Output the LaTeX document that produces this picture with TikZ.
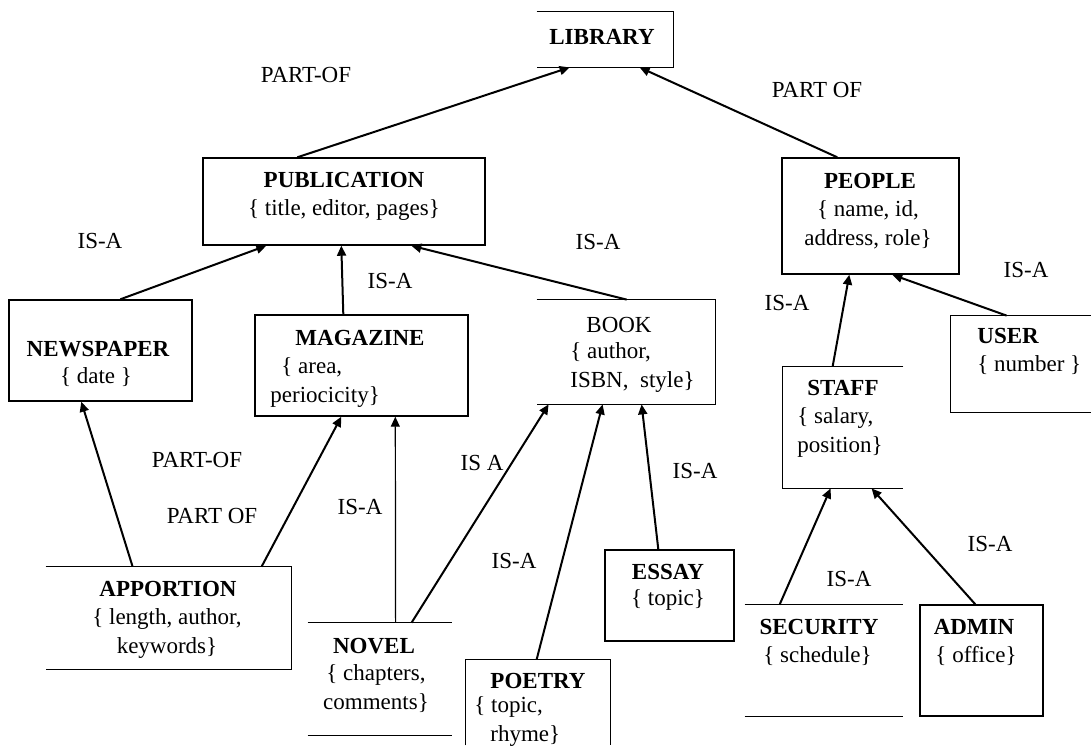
\documentclass[tikz,border=0pt]{standalone}
\usepackage{fontspec}
\setmainfont{Liberation Serif}
\usetikzlibrary{arrows.meta,fit,calc}
\begin{document}
\begin{tikzpicture}[x=0.5pt,y=-0.5pt,
  every node/.style={font=\fontsize{11.5}{14.5}\selectfont},
  frame/.style={fit={#1}, inner sep=0pt, draw=black, line width=0.7pt},
  area/.style={fit={#1}, inner sep=0pt},
  boxline/.style={line width=0.7pt},
  title/.style={inner sep=0pt, font=\fontsize{11.5}{14.5}\selectfont\bfseries},
  attr/.style={inner sep=0pt, align=center},
  lattr/.style={inner sep=0pt, align=left, anchor=west},
  rel/.style={inner sep=0pt},
  link/.style={line width=1pt, -{Triangle[length=5pt,width=4.5pt]}},
  thinlink/.style={line width=0.6pt, -{Triangle[length=5pt,width=4.5pt]}},
]
\useasboundingbox (0,0) rectangle (1091,745);

% ---- classes ----
\node[area={(537,12) (673,67)}] (lib) {};
\draw[boxline] (lib.north west) -- (lib.north east) -- (lib.south east) -- (lib.south west);
\node[title] (lib-t) at (602,37) {LIBRARY};

\node[frame={(203,158) (485,245)}] (pub) {};
\node[title] (pub-t) at (344,180) {PUBLICATION};
\node[attr] (pub-a) at (344,210) {\{ title, editor, pages\}};

\node[frame={(782,158) (959,274)}] (ppl) {};
\node[title] (ppl-t) at (870,181) {PEOPLE};
\node[attr] (ppl-a) at (868,224.5) {\{ name, id,\\address, role\}};

\node[frame={(9,300) (192,401)}] (news) {};
\node[title] (news-t) at (98,349) {NEWSPAPER};
\node[attr] (news-a) at (96,377) {\{ date \}};

\node[frame={(255,315) (468,416)}] (mag) {};
\node[title] (mag-t) at (360,338) {MAGAZINE};
\node[lattr] (mag-a) at (270,382) {\hspace{5.5pt}\{ area,\\periocicity\}};

\node[area={(537,300) (715,404)}] (book) {};
\draw[boxline] (book.north west) -- (book.north east) -- (book.south east) -- (book.south west);
\node[rel] (book-t) at (619,325) {BOOK};
\node[lattr] (book-a) at (570,367.5) {\{ author,\\ ISBN,\ \ style\}};

\node[area={(783,367) (903,488)}] (staff) {};
\draw[boxline] (staff.north east) -- (staff.north west) -- (staff.south west) -- (staff.south east);
\node[title] (staff-t) at (843,388) {STAFF};
\node[lattr] (staff-a) at (797,432) {\{ salary,\\position\}};

\node[area={(951,316) (1091,412)}] (user) {};
\draw[boxline] (user.north east) -- (user.north west) -- (user.south west) -- (user.south east);
\node[title, anchor=west] (user-t) at (977,336) {USER};
\node[lattr] (user-a) at (977,365) {\{ number \}};

\node[area={(46,567) (291,669)}] (appo) {};
\draw[boxline] (appo.north west) -- (appo.north east) -- (appo.south east) -- (appo.south west);
\node[title] (appo-t) at (168,589) {APPORTION};
\node[attr] (appo-a) at (167,633) {\{ length, author,\\keywords\}};

\node[area={(308,623) (452,735)}] (novel) {};
\draw[boxline] (novel.north west) -- (novel.north east);
\draw[boxline] (novel.south west) -- (novel.south east);
\node[title] (novel-t) at (374,646) {NOVEL};
\node[attr] (novel-a) at (376,689) {\{ chapters,\\comments\}};

\node[area={(466,660) (610,745)}] (poetry) {};
\draw[boxline] (poetry.south west) -- (poetry.north west) -- (poetry.north east) -- (poetry.south east);
\node[title] (poetry-t) at (538,681) {POETRY};
\node[lattr] (poetry-a) at (474,721.5) {\{ topic,\\\hspace{8pt}rhyme\}};

\node[frame={(605,550) (734,641)}] (essay) {};
\node[title] (essay-t) at (668,572) {ESSAY};
\node[attr] (essay-a) at (668,600) {\{ topic\}};

\node[area={(745,605) (903,716)}] (sec) {};
\draw[boxline] (sec.north west) -- (sec.north east);
\draw[boxline] (sec.south west) -- (sec.south east);
\node[title] (sec-t) at (819,627) {SECURITY};
\node[lattr] (sec-a) at (763,656) {\{ schedule\}};

\node[frame={(920,605) (1043,716)}] (admin) {};
\node[title] (admin-t) at (974,627) {ADMIN};
\node[attr] (admin-a) at (976,656) {\{ office\}};

% ---- relations ----
\draw[link] ($(pub.north west)+(95,0)$) -- ($(lib.south west)+(33,0)$);
\draw[link] ($(ppl.north west)+(56,0)$) -- ($(lib.south west)+(103,0)$);
\draw[link] ($(news.north west)+(112,0)$) -- ($(pub.south west)+(64,0)$);
\draw[link] ($(mag.north west)+(89,0)$) -- ($(pub.south west)+(139,0)$);
\draw[link] ($(book.north west)+(90,0)$) -- ($(pub.south west)+(209,0)$);
\draw[link] ($(staff.north west)+(50,0)$) -- ($(ppl.south west)+(68,0)$);
\draw[link] ($(user.north west)+(56,0)$) -- ($(ppl.south west)+(111,0)$);
\draw[link] ($(appo.north west)+(87,0)$) -- ($(news.south west)+(73,0)$);
\draw[link] ($(appo.north west)+(216,0)$) -- ($(mag.south west)+(87,0)$);
\draw[thinlink] ($(novel.north west)+(88,0)$) -- ($(mag.south west)+(141,0)$);
\draw[link] ($(novel.north west)+(104,0)$) -- ($(book.south west)+(12,0)$);
\draw[link] ($(poetry.north west)+(71,0)$) -- ($(book.south west)+(66,0)$);
\draw[link] ($(essay.north west)+(54,0)$) -- ($(book.south west)+(105,0)$);
\draw[link] ($(sec.north west)+(35,0)$) -- ($(staff.south west)+(48,0)$);
\draw[link] ($(admin.north west)+(56,0)$) -- ($(staff.south west)+(89,0)$);

% ---- relation labels ----
\node[rel] (r1) at (306,75) {PART-OF};
\node[rel] (r2) at (817,90) {PART OF};
\node[rel] (r3) at (100,241) {IS-A};
\node[rel] (r4) at (390,281) {IS-A};
\node[rel] (r5) at (598,242) {IS-A};
\node[rel] (r6) at (787,303) {IS-A};
\node[rel] (r7) at (1026,270) {IS-A};
\node[rel] (r8) at (197,460) {PART-OF};
\node[rel] (r9) at (212,516) {PART OF};
\node[rel] (r10) at (360,507) {IS-A};
\node[rel] (r11) at (482,463) {IS A};
\node[rel] (r12) at (514,561) {IS-A};
\node[rel] (r13) at (695,471) {IS-A};
\node[rel] (r14) at (849,579) {IS-A};
\node[rel] (r15) at (990,544) {IS-A};
\end{tikzpicture}
\end{document}
